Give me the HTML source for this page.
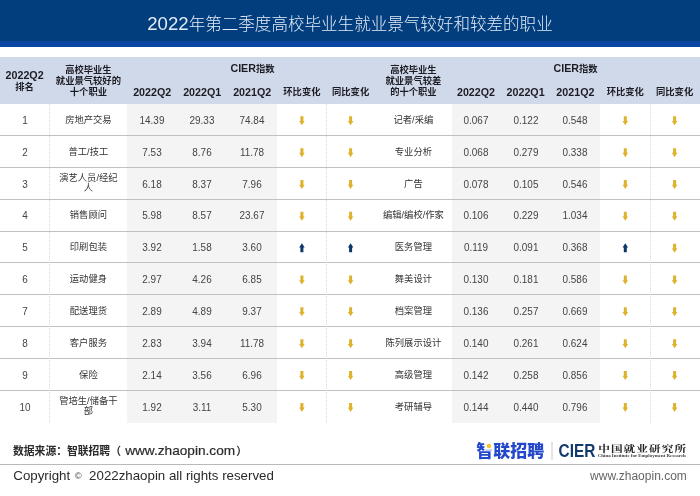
<!DOCTYPE html>
<html>
<head>
<meta charset="utf-8">
<title>2022年第二季度高校毕业生就业景气较好和较差的职业</title>
<style>
html,body{margin:0;padding:0;background:#fff;}
body{width:700px;height:496px;position:relative;overflow:hidden;font-family:"Liberation Sans","Noto Sans CJK SC",sans-serif;color:#3a3a3a;}
.abs{position:absolute;}
.banner{left:0;top:0;width:700px;height:41px;background:#023d7d;}
.band{left:0;top:40.5px;width:700px;height:6px;background:#0946a2;}
.title{left:0;top:10px;width:700px;height:28px;line-height:28px;text-align:center;color:#e4ecf7;font-size:16.56px;font-weight:300;white-space:nowrap;}
.title .l{font-size:18.6px;font-weight:400;}
.thead{left:0;top:57.2px;width:700px;height:46.5px;background:#d0d9e9;}
.grey{background:#f4f4f4;top:103.7px;height:319px;}
.hl{left:0;width:700px;height:1px;background:#c1c1c1;}
.vl{top:104px;height:318.7px;width:0;border-left:1px dotted #dadada;}
.h{font-weight:bold;color:#1c1c24;font-size:9.3px;line-height:11.1px;text-align:center;white-space:nowrap;transform:translateX(-50%);}
.h .l{font-size:10.7px;}
.c{font-size:10.8px;line-height:12px;text-align:center;white-space:nowrap;transform:translate(-50%,-50%) scaleX(0.92);color:#444;}
.o{font-size:9.3px;line-height:10.6px;text-align:center;white-space:nowrap;transform:translate(-50%,-50%);color:#333;}
.src{left:13px;top:442.2px;font-size:10.8px;font-weight:bold;color:#2b2b2b;white-space:nowrap;line-height:18px;}
.src .l{font-size:13.65px;margin:0 1.2px 0 4.2px;font-weight:normal;-webkit-text-stroke:0.2px #2b2b2b;}
.fl{left:0;top:464px;width:700px;height:1px;background:#b9b9b9;}
.copy{left:13.3px;top:466px;font-size:13.3px;color:#2a2a2a;white-space:nowrap;line-height:20px;}
.copy .s{font-size:9.5px;color:#4a4a4a;position:relative;top:-1px;margin-left:0.8px;}
.www{right:13.2px;top:466px;font-size:12px;color:#666;white-space:nowrap;line-height:20px;}
</style>
</head>
<body>
<div class="abs banner"></div>
<div class="abs band"></div>
<div class="abs title"><span class="l">2022</span>年第二季度高校毕业生就业景气较好和较差的职业</div>
<div class="abs thead"></div>
<div class="abs grey" style="left:127.3px;width:149.7px"></div>
<div class="abs grey" style="left:451.6px;width:148.4px"></div>

<div class="abs hl" style="top:135.04px"></div>
<div class="abs hl" style="top:166.88px"></div>
<div class="abs hl" style="top:198.72px"></div>
<div class="abs hl" style="top:230.56px"></div>
<div class="abs hl" style="top:262.40px"></div>
<div class="abs hl" style="top:294.24px"></div>
<div class="abs hl" style="top:326.08px"></div>
<div class="abs hl" style="top:357.92px"></div>
<div class="abs hl" style="top:389.76px"></div>
<div class="abs vl" style="left:49.2px"></div>
<div class="abs vl" style="left:326.2px"></div>
<div class="abs vl" style="left:650.2px"></div>
<div class="abs h" style="left:24.6px;top:69.8px"><span class="l" style="position:relative;top:0.6px">2022Q2</span><br>排名</div>
<div class="abs h" style="left:88.4px;top:64.5px">高校毕业生<br>就业景气较好的<br>十个职业</div>
<div class="abs h" style="left:413.4px;top:64.5px">高校毕业生<br>就业景气较差<br>的十个职业</div>
<div class="abs h" style="left:252.5px;top:63.4px"><span class="l">CIER</span>指数</div>
<div class="abs h" style="left:575.6px;top:63.4px"><span class="l">CIER</span>指数</div>
<div class="abs h" style="left:152.2px;top:86.6px"><span class="l">2022Q2</span></div>
<div class="abs h" style="left:202.2px;top:86.6px"><span class="l">2022Q1</span></div>
<div class="abs h" style="left:252.2px;top:86.6px"><span class="l">2021Q2</span></div>
<div class="abs h" style="left:476.0px;top:86.6px"><span class="l">2022Q2</span></div>
<div class="abs h" style="left:525.6px;top:86.6px"><span class="l">2022Q1</span></div>
<div class="abs h" style="left:575.4px;top:86.6px"><span class="l">2021Q2</span></div>
<div class="abs h" style="left:301.9px;top:86.6px">环比变化</div>
<div class="abs h" style="left:350.6px;top:86.6px">同比变化</div>
<div class="abs h" style="left:625.3px;top:86.6px">环比变化</div>
<div class="abs h" style="left:674.6px;top:86.6px">同比变化</div>
<div class="abs c" style="left:24.6px;top:119.9px">1</div>
<div class="abs o" style="left:88.4px;top:119.9px">房地产交易</div>
<div class="abs c" style="left:152.2px;top:119.9px">14.39</div>
<div class="abs c" style="left:202.2px;top:119.9px">29.33</div>
<div class="abs c" style="left:252.2px;top:119.9px">74.84</div>
<div class="abs o" style="left:413.4px;top:119.9px">记者/采编</div>
<div class="abs c" style="left:476.0px;top:119.9px">0.067</div>
<div class="abs c" style="left:525.6px;top:119.9px">0.122</div>
<div class="abs c" style="left:575.4px;top:119.9px">0.548</div>
<div class="abs c" style="left:24.6px;top:151.8px">2</div>
<div class="abs o" style="left:88.4px;top:151.8px">普工/技工</div>
<div class="abs c" style="left:152.2px;top:151.8px">7.53</div>
<div class="abs c" style="left:202.2px;top:151.8px">8.76</div>
<div class="abs c" style="left:252.2px;top:151.8px">11.78</div>
<div class="abs o" style="left:413.4px;top:151.8px">专业分析</div>
<div class="abs c" style="left:476.0px;top:151.8px">0.068</div>
<div class="abs c" style="left:525.6px;top:151.8px">0.279</div>
<div class="abs c" style="left:575.4px;top:151.8px">0.338</div>
<div class="abs c" style="left:24.6px;top:183.6px">3</div>
<div class="abs o" style="left:88.4px;top:183.6px">演艺人员/经纪<br>人</div>
<div class="abs c" style="left:152.2px;top:183.6px">6.18</div>
<div class="abs c" style="left:202.2px;top:183.6px">8.37</div>
<div class="abs c" style="left:252.2px;top:183.6px">7.96</div>
<div class="abs o" style="left:413.4px;top:183.6px">广告</div>
<div class="abs c" style="left:476.0px;top:183.6px">0.078</div>
<div class="abs c" style="left:525.6px;top:183.6px">0.105</div>
<div class="abs c" style="left:575.4px;top:183.6px">0.546</div>
<div class="abs c" style="left:24.6px;top:215.4px">4</div>
<div class="abs o" style="left:88.4px;top:215.4px">销售顾问</div>
<div class="abs c" style="left:152.2px;top:215.4px">5.98</div>
<div class="abs c" style="left:202.2px;top:215.4px">8.57</div>
<div class="abs c" style="left:252.2px;top:215.4px">23.67</div>
<div class="abs o" style="left:413.4px;top:215.4px">编辑/编校/作家</div>
<div class="abs c" style="left:476.0px;top:215.4px">0.106</div>
<div class="abs c" style="left:525.6px;top:215.4px">0.229</div>
<div class="abs c" style="left:575.4px;top:215.4px">1.034</div>
<div class="abs c" style="left:24.6px;top:247.3px">5</div>
<div class="abs o" style="left:88.4px;top:247.3px">印刷包装</div>
<div class="abs c" style="left:152.2px;top:247.3px">3.92</div>
<div class="abs c" style="left:202.2px;top:247.3px">1.58</div>
<div class="abs c" style="left:252.2px;top:247.3px">3.60</div>
<div class="abs o" style="left:413.4px;top:247.3px">医务管理</div>
<div class="abs c" style="left:476.0px;top:247.3px">0.119</div>
<div class="abs c" style="left:525.6px;top:247.3px">0.091</div>
<div class="abs c" style="left:575.4px;top:247.3px">0.368</div>
<div class="abs c" style="left:24.6px;top:279.1px">6</div>
<div class="abs o" style="left:88.4px;top:279.1px">运动健身</div>
<div class="abs c" style="left:152.2px;top:279.1px">2.97</div>
<div class="abs c" style="left:202.2px;top:279.1px">4.26</div>
<div class="abs c" style="left:252.2px;top:279.1px">6.85</div>
<div class="abs o" style="left:413.4px;top:279.1px">舞美设计</div>
<div class="abs c" style="left:476.0px;top:279.1px">0.130</div>
<div class="abs c" style="left:525.6px;top:279.1px">0.181</div>
<div class="abs c" style="left:575.4px;top:279.1px">0.586</div>
<div class="abs c" style="left:24.6px;top:311.0px">7</div>
<div class="abs o" style="left:88.4px;top:311.0px">配送理货</div>
<div class="abs c" style="left:152.2px;top:311.0px">2.89</div>
<div class="abs c" style="left:202.2px;top:311.0px">4.89</div>
<div class="abs c" style="left:252.2px;top:311.0px">9.37</div>
<div class="abs o" style="left:413.4px;top:311.0px">档案管理</div>
<div class="abs c" style="left:476.0px;top:311.0px">0.136</div>
<div class="abs c" style="left:525.6px;top:311.0px">0.257</div>
<div class="abs c" style="left:575.4px;top:311.0px">0.669</div>
<div class="abs c" style="left:24.6px;top:342.8px">8</div>
<div class="abs o" style="left:88.4px;top:342.8px">客户服务</div>
<div class="abs c" style="left:152.2px;top:342.8px">2.83</div>
<div class="abs c" style="left:202.2px;top:342.8px">3.94</div>
<div class="abs c" style="left:252.2px;top:342.8px">11.78</div>
<div class="abs o" style="left:413.4px;top:342.8px">陈列展示设计</div>
<div class="abs c" style="left:476.0px;top:342.8px">0.140</div>
<div class="abs c" style="left:525.6px;top:342.8px">0.261</div>
<div class="abs c" style="left:575.4px;top:342.8px">0.624</div>
<div class="abs c" style="left:24.6px;top:374.6px">9</div>
<div class="abs o" style="left:88.4px;top:374.6px">保险</div>
<div class="abs c" style="left:152.2px;top:374.6px">2.14</div>
<div class="abs c" style="left:202.2px;top:374.6px">3.56</div>
<div class="abs c" style="left:252.2px;top:374.6px">6.96</div>
<div class="abs o" style="left:413.4px;top:374.6px">高级管理</div>
<div class="abs c" style="left:476.0px;top:374.6px">0.142</div>
<div class="abs c" style="left:525.6px;top:374.6px">0.258</div>
<div class="abs c" style="left:575.4px;top:374.6px">0.856</div>
<div class="abs c" style="left:24.6px;top:406.5px">10</div>
<div class="abs o" style="left:88.4px;top:406.5px">管培生/储备干<br>部</div>
<div class="abs c" style="left:152.2px;top:406.5px">1.92</div>
<div class="abs c" style="left:202.2px;top:406.5px">3.11</div>
<div class="abs c" style="left:252.2px;top:406.5px">5.30</div>
<div class="abs o" style="left:413.4px;top:406.5px">考研辅导</div>
<div class="abs c" style="left:476.0px;top:406.5px">0.144</div>
<div class="abs c" style="left:525.6px;top:406.5px">0.440</div>
<div class="abs c" style="left:575.4px;top:406.5px">0.796</div>
<svg class="abs" style="left:0;top:0" width="700" height="496" viewBox="0 0 700 496"><polygon points="300.40,116.32 303.40,116.32 303.40,121.02 304.65,121.02 301.90,125.32 299.15,121.02 300.40,121.02" fill="#deb22d"/><polygon points="349.10,116.32 352.10,116.32 352.10,121.02 353.35,121.02 350.60,125.32 347.85,121.02 349.10,121.02" fill="#deb22d"/><polygon points="623.80,116.32 626.80,116.32 626.80,121.02 628.05,121.02 625.30,125.32 622.55,121.02 623.80,121.02" fill="#deb22d"/><polygon points="673.10,116.32 676.10,116.32 676.10,121.02 677.35,121.02 674.60,125.32 671.85,121.02 673.10,121.02" fill="#deb22d"/><polygon points="300.40,148.16 303.40,148.16 303.40,152.86 304.65,152.86 301.90,157.16 299.15,152.86 300.40,152.86" fill="#deb22d"/><polygon points="349.10,148.16 352.10,148.16 352.10,152.86 353.35,152.86 350.60,157.16 347.85,152.86 349.10,152.86" fill="#deb22d"/><polygon points="623.80,148.16 626.80,148.16 626.80,152.86 628.05,152.86 625.30,157.16 622.55,152.86 623.80,152.86" fill="#deb22d"/><polygon points="673.10,148.16 676.10,148.16 676.10,152.86 677.35,152.86 674.60,157.16 671.85,152.86 673.10,152.86" fill="#deb22d"/><polygon points="300.40,180.00 303.40,180.00 303.40,184.70 304.65,184.70 301.90,189.00 299.15,184.70 300.40,184.70" fill="#deb22d"/><polygon points="349.10,180.00 352.10,180.00 352.10,184.70 353.35,184.70 350.60,189.00 347.85,184.70 349.10,184.70" fill="#deb22d"/><polygon points="623.80,180.00 626.80,180.00 626.80,184.70 628.05,184.70 625.30,189.00 622.55,184.70 623.80,184.70" fill="#deb22d"/><polygon points="673.10,180.00 676.10,180.00 676.10,184.70 677.35,184.70 674.60,189.00 671.85,184.70 673.10,184.70" fill="#deb22d"/><polygon points="300.40,211.84 303.40,211.84 303.40,216.54 304.65,216.54 301.90,220.84 299.15,216.54 300.40,216.54" fill="#deb22d"/><polygon points="349.10,211.84 352.10,211.84 352.10,216.54 353.35,216.54 350.60,220.84 347.85,216.54 349.10,216.54" fill="#deb22d"/><polygon points="623.80,211.84 626.80,211.84 626.80,216.54 628.05,216.54 625.30,220.84 622.55,216.54 623.80,216.54" fill="#deb22d"/><polygon points="673.10,211.84 676.10,211.84 676.10,216.54 677.35,216.54 674.60,220.84 671.85,216.54 673.10,216.54" fill="#deb22d"/><polygon points="301.90,243.18 304.65,247.48 303.40,247.48 303.40,252.18 300.40,252.18 300.40,247.48 299.15,247.48" fill="#0b3868"/><polygon points="350.60,243.18 353.35,247.48 352.10,247.48 352.10,252.18 349.10,252.18 349.10,247.48 347.85,247.48" fill="#0b3868"/><polygon points="625.30,243.18 628.05,247.48 626.80,247.48 626.80,252.18 623.80,252.18 623.80,247.48 622.55,247.48" fill="#0b3868"/><polygon points="673.10,243.68 676.10,243.68 676.10,248.38 677.35,248.38 674.60,252.68 671.85,248.38 673.10,248.38" fill="#deb22d"/><polygon points="300.40,275.52 303.40,275.52 303.40,280.22 304.65,280.22 301.90,284.52 299.15,280.22 300.40,280.22" fill="#deb22d"/><polygon points="349.10,275.52 352.10,275.52 352.10,280.22 353.35,280.22 350.60,284.52 347.85,280.22 349.10,280.22" fill="#deb22d"/><polygon points="623.80,275.52 626.80,275.52 626.80,280.22 628.05,280.22 625.30,284.52 622.55,280.22 623.80,280.22" fill="#deb22d"/><polygon points="673.10,275.52 676.10,275.52 676.10,280.22 677.35,280.22 674.60,284.52 671.85,280.22 673.10,280.22" fill="#deb22d"/><polygon points="300.40,307.36 303.40,307.36 303.40,312.06 304.65,312.06 301.90,316.36 299.15,312.06 300.40,312.06" fill="#deb22d"/><polygon points="349.10,307.36 352.10,307.36 352.10,312.06 353.35,312.06 350.60,316.36 347.85,312.06 349.10,312.06" fill="#deb22d"/><polygon points="623.80,307.36 626.80,307.36 626.80,312.06 628.05,312.06 625.30,316.36 622.55,312.06 623.80,312.06" fill="#deb22d"/><polygon points="673.10,307.36 676.10,307.36 676.10,312.06 677.35,312.06 674.60,316.36 671.85,312.06 673.10,312.06" fill="#deb22d"/><polygon points="300.40,339.20 303.40,339.20 303.40,343.90 304.65,343.90 301.90,348.20 299.15,343.90 300.40,343.90" fill="#deb22d"/><polygon points="349.10,339.20 352.10,339.20 352.10,343.90 353.35,343.90 350.60,348.20 347.85,343.90 349.10,343.90" fill="#deb22d"/><polygon points="623.80,339.20 626.80,339.20 626.80,343.90 628.05,343.90 625.30,348.20 622.55,343.90 623.80,343.90" fill="#deb22d"/><polygon points="673.10,339.20 676.10,339.20 676.10,343.90 677.35,343.90 674.60,348.20 671.85,343.90 673.10,343.90" fill="#deb22d"/><polygon points="300.40,371.04 303.40,371.04 303.40,375.74 304.65,375.74 301.90,380.04 299.15,375.74 300.40,375.74" fill="#deb22d"/><polygon points="349.10,371.04 352.10,371.04 352.10,375.74 353.35,375.74 350.60,380.04 347.85,375.74 349.10,375.74" fill="#deb22d"/><polygon points="623.80,371.04 626.80,371.04 626.80,375.74 628.05,375.74 625.30,380.04 622.55,375.74 623.80,375.74" fill="#deb22d"/><polygon points="673.10,371.04 676.10,371.04 676.10,375.74 677.35,375.74 674.60,380.04 671.85,375.74 673.10,375.74" fill="#deb22d"/><polygon points="300.40,402.88 303.40,402.88 303.40,407.58 304.65,407.58 301.90,411.88 299.15,407.58 300.40,407.58" fill="#deb22d"/><polygon points="349.10,402.88 352.10,402.88 352.10,407.58 353.35,407.58 350.60,411.88 347.85,407.58 349.10,407.58" fill="#deb22d"/><polygon points="623.80,402.88 626.80,402.88 626.80,407.58 628.05,407.58 625.30,411.88 622.55,407.58 623.80,407.58" fill="#deb22d"/><polygon points="673.10,402.88 676.10,402.88 676.10,407.58 677.35,407.58 674.60,411.88 671.85,407.58 673.10,407.58" fill="#deb22d"/></svg>

<div class="abs src">数据来源：智联招聘（<span class="l">www.zhaopin.com</span>）</div>
<div class="abs fl"></div>
<div class="abs copy">Copyright <span class="s">©</span>&nbsp;&nbsp;2022zhaopin all rights reserved</div>
<div class="abs www">www.zhaopin.com</div>
<svg class="abs" style="left:470px;top:436px" width="230" height="28" viewBox="470 436 230 28">
<text x="476.3" y="457.2" font-family="'Liberation Sans','Noto Sans CJK SC',sans-serif" font-weight="900" font-size="16.6" fill="#2348cb" textLength="67.8" lengthAdjust="spacingAndGlyphs">智联招聘</text>
<rect x="484.6" y="440.5" width="8" height="9.3" fill="#fff"/>
<circle cx="488.9" cy="446.0" r="2.2" fill="#f7c526"/>
<rect x="551.5" y="441.7" width="1" height="18" fill="#cfc8bc"/>
<text x="558.6" y="456.6" font-family="'Liberation Sans',sans-serif" font-weight="bold" font-size="18" fill="#123a6e" textLength="36.8" lengthAdjust="spacingAndGlyphs">CIER</text>
<text transform="translate(598.2,451.9) scale(1.36,1)" x="0" y="0" font-family="'Liberation Serif','Noto Serif CJK SC',serif" font-weight="bold" font-size="8.6" fill="#222" letter-spacing="0.75">中国就业研究所</text>
<text x="597.8" y="456.7" font-family="'Liberation Serif',serif" font-weight="bold" font-size="4.9" fill="#3a3a3a" textLength="88" lengthAdjust="spacingAndGlyphs">China Institute for Employment Research</text>
</svg>
</body>
</html>
